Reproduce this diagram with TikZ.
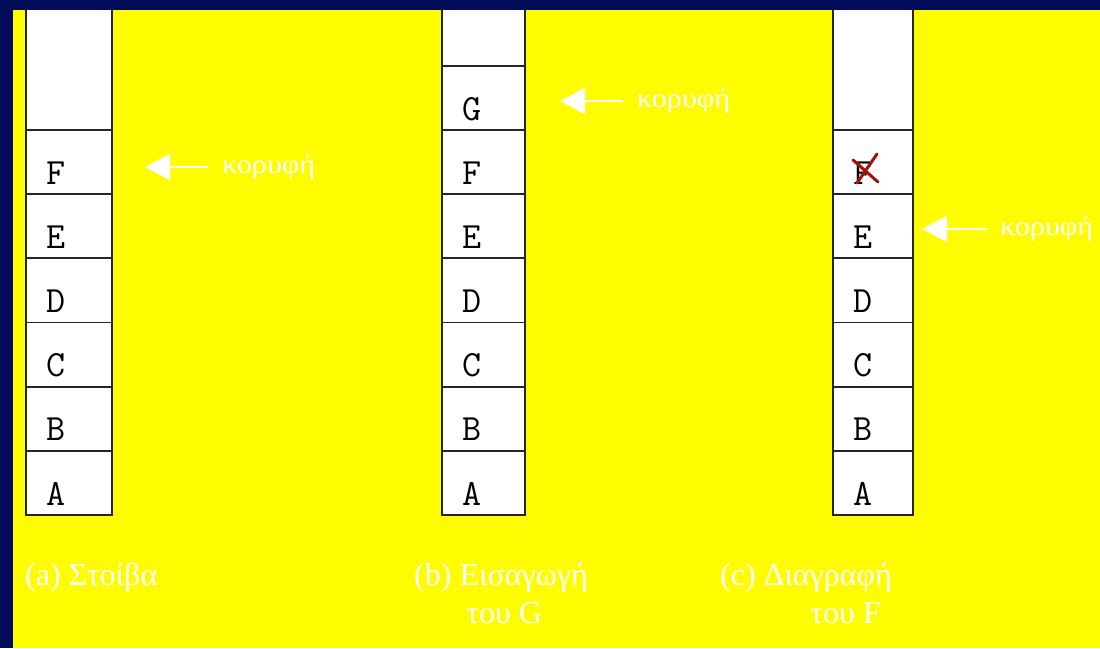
\documentclass[tikz,border=0pt]{standalone}
\usepackage{fontspec}
\setmainfont{Liberation Serif}
\usetikzlibrary{arrows.meta}
\definecolor{navy}{RGB}{0,12,88}
\definecolor{bgyellow}{RGB}{255,252,0}
\definecolor{xred}{RGB}{165,18,10}
\tikzset{
  cell/.style={draw=black!85, line width=1.8pt, fill=white, inner sep=0pt, outer sep=0pt},
  letter/.style={anchor=base west, inner sep=0pt, font=\fontsize{37}{37}\selectfont\ttfamily},
  ptr/.style={draw=white, line width=2pt, -{Triangle[length=25pt,width=26pt]}},
  ptrlabel/.style={anchor=base west, inner sep=0pt, text=white, font=\fontsize{27}{27}\selectfont},
  caption/.style={anchor=base west, inner sep=0pt, text=white, font=\fontsize{32}{32}\selectfont},
}
\begin{document}
\begin{tikzpicture}[x=1pt,y=-1pt]
\fill[bgyellow] (0,0) rectangle (1100,648);
\useasboundingbox (0,0) rectangle (1100,648);
% stack (a)
\node[cell, anchor=south west, minimum width=86pt, minimum height=140pt] (a0) at (26,130) {};
\foreach \l [count=\k] in {F,E,D,C,B,A} {
  \node[cell, anchor=north west, minimum width=86pt, minimum height=64.17pt] (a\k) at (26,{130+64.17*(\k-1)}) {};
  \node[letter] (aL\k) at ([xshift=20pt,yshift=10pt]a\k.south west) {\l};
}
% stack (b)
\node[cell, anchor=south west, minimum width=83pt, minimum height=80pt] (b0) at (442,65.83) {};
\foreach \l [count=\k] in {G,F,E,D,C,B,A} {
  \node[cell, anchor=north west, minimum width=83pt, minimum height=64.17pt] (b\k) at (442,{65.83+64.17*(\k-1)}) {};
  \node[letter] (bL\k) at ([xshift=20pt,yshift=10pt]b\k.south west) {\l};
}
% stack (c)
\node[cell, anchor=south west, minimum width=80pt, minimum height=140pt] (c0) at (833,130) {};
\foreach \l [count=\k] in {F,E,D,C,B,A} {
  \node[cell, anchor=north west, minimum width=80pt, minimum height=64.17pt] (c\k) at (833,{130+64.17*(\k-1)}) {};
  \node[letter] (cL\k) at ([xshift=20pt,yshift=10pt]c\k.south west) {\l};
}
% crossed-out F
\draw[xred, line width=3pt, line cap=round] (853,160) -- (878,182);
\draw[xred, line width=3pt, line cap=round] (877,154) -- (857,183);
% top pointers
\node[ptrlabel] (lblA) at (222,173) {\scalebox{1.12}[1]{κορυφή}};
\coordinate (tipA) at (145,167);
\coordinate (tailA) at (208,167);
\draw[ptr] (tailA) -- (tipA);
\node[ptrlabel] (lblB) at (637,107) {\scalebox{1.12}[1]{κορυφή}};
\coordinate (tipB) at (560,101);
\coordinate (tailB) at (623,101);
\draw[ptr] (tailB) -- (tipB);
\node[ptrlabel] (lblC) at (1000,235) {\scalebox{1.12}[1]{κορυφή}};
\coordinate (tipC) at (922,229);
\coordinate (tailC) at (987,229);
\draw[ptr] (tailC) -- (tipC);
% captions
\node[caption] (capA) at (25,585) {(a) Στοίβα};
\node[caption] (capB1) at (414,585) {(b) Εισαγωγή};
\node[caption] (capB2) at (466,623) {του G};
\node[caption] (capC1) at (720,585) {(c) Διαγραφή};
\node[caption] (capC2) at (810,623) {του F};
% border
\fill[navy] (0,0) rectangle (1100,10);
\fill[navy] (0,0) rectangle (13,648);
\end{tikzpicture}
\end{document}
